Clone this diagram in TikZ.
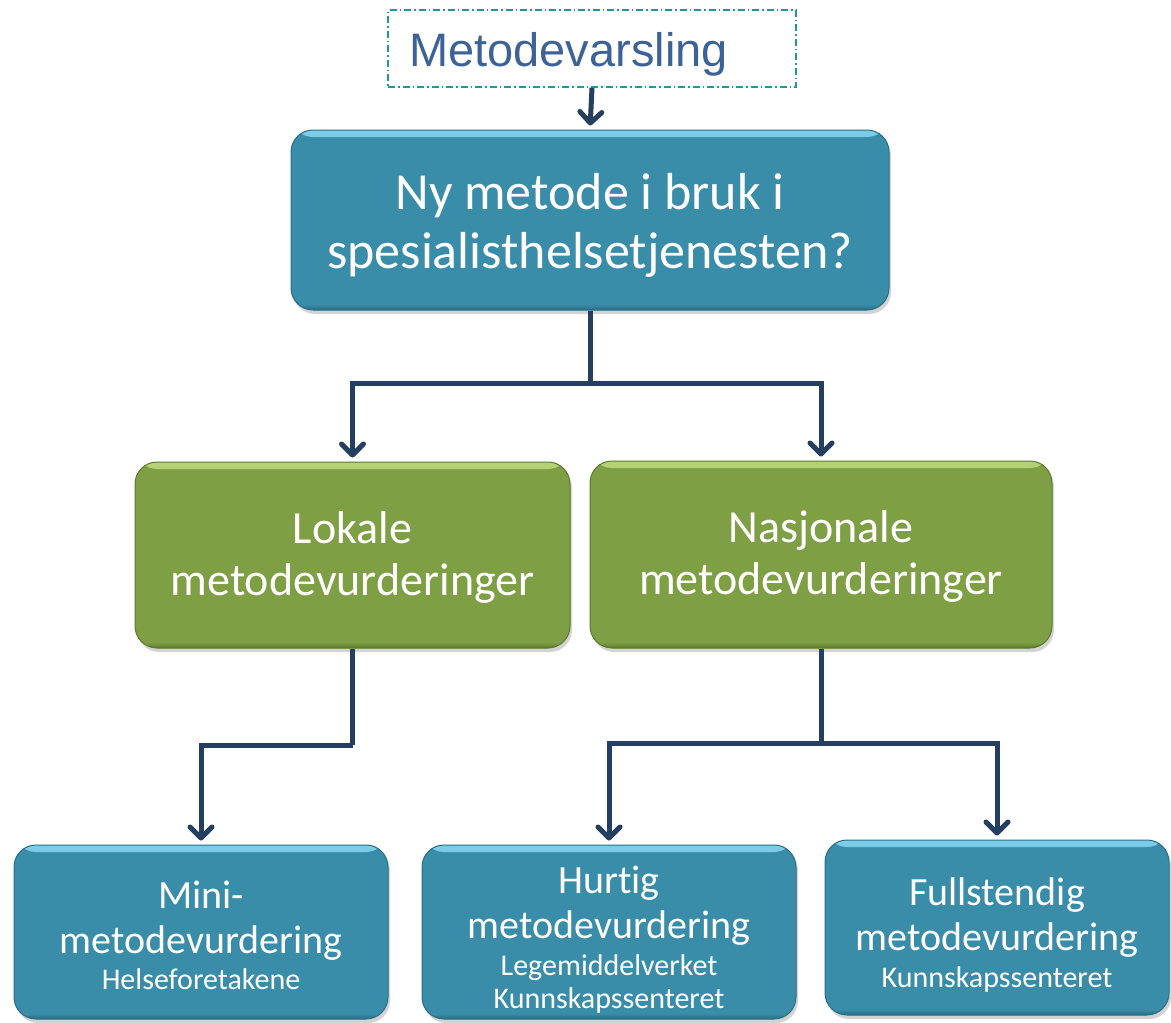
\documentclass[tikz,border=0pt]{standalone}
\usepackage{fontspec}
\setmainfont{Carlito}[Ligatures=NoCommon]
\newfontfamily\arialf{Liberation Sans}
\usetikzlibrary{arrows.meta,shadows}
\definecolor{tealc}{HTML}{3A8DA8}
\definecolor{teallight}{HTML}{7CCDE8}
\definecolor{tealdark}{HTML}{2A6E86}
\definecolor{greenc}{HTML}{7F9F45}
\definecolor{greenlight}{HTML}{B5D277}
\definecolor{greendark}{HTML}{5C7A2E}
\definecolor{navy}{HTML}{243F60}
\definecolor{dashteal}{HTML}{1C98A0}
\definecolor{mvtext}{HTML}{3C6397}
\tikzset{
  basebox/.style={rectangle, rounded corners=22pt, line width=1pt, text=white,
    align=center, inner sep=0pt,
    drop shadow={shadow xshift=2pt, shadow yshift=-4pt, opacity=0.35}},
  tealbox/.style={basebox, fill=tealc, draw=tealdark,
    path picture={
      \shade[top color=teallight, bottom color=tealc]
        (path picture bounding box.north west) rectangle ([yshift=-7pt]path picture bounding box.north east);
      \shade[top color=tealc, bottom color=tealdark]
        ([yshift=6pt]path picture bounding box.south west) rectangle (path picture bounding box.south east);}},
  greenbox/.style={basebox, fill=greenc, draw=greendark,
    path picture={
      \shade[top color=greenlight, bottom color=greenc]
        (path picture bounding box.north west) rectangle ([yshift=-7pt]path picture bounding box.north east);
      \shade[top color=greenc, bottom color=greendark]
        ([yshift=6pt]path picture bounding box.south west) rectangle (path picture bounding box.south east);}},
  mvbox/.style={rectangle, draw=dashteal, line width=1.5pt,
    dash pattern=on 7pt off 3pt on 1.5pt off 3pt, inner sep=0pt},
  trunk/.style={draw=navy, line width=5pt},
  conn/.style={draw=navy, line width=5pt, shorten >=4pt,
    -{Straight Barb[length=11pt,width=22pt,round]}},
}
\newcommand{\smallline}{\fontsize{30}{33}\selectfont}
\begin{document}
\begin{tikzpicture}[x=1pt,y=-1pt]
\useasboundingbox (0,0) rectangle (1171,1023);

\node[mvbox, minimum width=408pt, minimum height=77pt] (mv) at (592,48.5) {};
\node[anchor=base west, text=mvtext, font=\arialf\fontsize{47}{52}\selectfont, inner sep=0pt] (mvt) at (409,66) {Metodevarsling};

\node[tealbox, minimum width=598pt, minimum height=180pt, font=\fontsize{52}{59}\selectfont] (top) at (590,220)
  {\rule{0pt}{46pt}Ny metode i bruk i\\spesialisthelsetjenesten?};

\node[greenbox, minimum width=435pt, minimum height=186pt, font=\fontsize{46}{52}\selectfont] (gl) at (352.5,555)
  {\rule{0pt}{36pt}Lokale\\metodevurderinger};
\node[greenbox, minimum width=462pt, minimum height=187pt, font=\fontsize{46}{52}\selectfont] (gr) at (821,554.5)
  {\rule{0pt}{36pt}Nasjonale\\metodevurderinger};

\node[tealbox, minimum width=374pt, minimum height=174pt, font=\fontsize{40}{45}\selectfont] (bl) at (201,932)
  {\rule{0pt}{34pt}Mini-\\metodevurdering\\[-9pt]\smallline Helseforetakene};
\node[tealbox, minimum width=374pt, minimum height=174pt, font=\fontsize{40}{45}\selectfont] (bm) at (609,932)
  {\rule{0pt}{42pt}Hurtig\\metodevurdering\\[-8pt]\smallline Legemiddelverket\\[-12pt]\smallline Kunnskapssenteret};
\node[tealbox, minimum width=344pt, minimum height=175pt, font=\fontsize{40}{45}\selectfont] (br) at (997,927.5)
  {\rule{0pt}{42pt}Fullstendig\\metodevurdering\\[-8pt]\smallline Kunnskapssenteret};

\coordinate (j1) at (590,383);
\coordinate (j2) at (352.5,745);
\coordinate (j3) at (821,743);

\draw[conn] (mv.south) -- (top.north);
\draw[trunk] (top.south) -- (j1);
\draw[conn] (j1) -| (gl.north);
\draw[conn] (j1) -| (gr.north);
\draw[trunk] (gl.south) -- (j2);
\draw[conn] (j2) -| (bl.north);
\draw[trunk] (gr.south) -- (j3);
\draw[conn] (j3) -| (bm.north);
\draw[conn] (j3) -| (br.north);
\end{tikzpicture}
\end{document}
